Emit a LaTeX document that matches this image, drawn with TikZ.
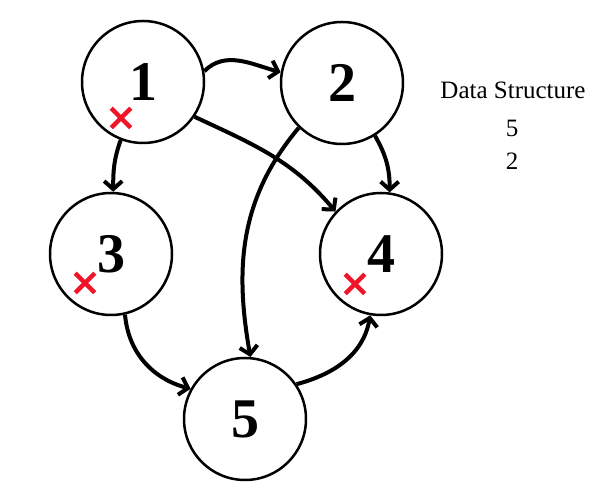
\documentclass[tikz,border=0pt]{standalone}
\usepackage{fontspec}
\setmainfont{Liberation Serif}
\usepackage{tikz}
\usetikzlibrary{arrows.meta,shapes.misc}
\definecolor{markred}{RGB}{240,20,40}
\tikzset{
  vertex/.style={circle, draw, line width=2.5pt, minimum size=122pt, inner sep=0pt,
    font=\fontsize{56}{60}\selectfont\bfseries},
  edge/.style={line width=4pt, -{Straight Barb[length=8pt,width=18pt]}},
  visited/.style={cross out, draw=markred, line width=4.5pt, minimum size=15pt, inner sep=0pt},
  stackitem/.style={font=\fontsize{25}{28}\selectfont}
}

\begin{document}
\begin{tikzpicture}[x=1pt,y=1pt]
    \useasboundingbox (0,0) rectangle (600,500);
    \node[vertex] (n1) at (143,418) {1};
    \node[vertex] (n2) at (342,417) {2};
    \node[vertex] (n3) at (111,246) {3};
    \node[vertex] (n4) at (381,246) {4};
    \node[vertex] (n5) at (245,81) {5};
    \node[visited] (x1) at (121,382) {};
    \node[visited] (x3) at (85,217) {};
    \node[visited] (x4) at (355,216) {};
    \draw[edge] (n1.10) to[out=45, in=165] (n2.170);
    \draw[edge] (n1.-111) to[out=-110, in=90] (n3.88);
    \draw[edge] (n1.-34) to[out=-25, in=130] (n4.137);
    \draw[edge] (n2.-58) to[out=-60, in=90] (n4.82);
    \draw[edge] (n2.-134) to[out=-130, in=100] (n5.85);
    \draw[edge] (n3.-77) to[out=-85, in=165] (n5.151);
    \draw[edge] (n5.34) to[out=15, in=-100] (n4.-100);
    \node[stackitem] (title) at (513,410) {Data Structure};
    \node[stackitem] (s1) at (512,372) {5};
    \node[stackitem] (s2) at (512,339) {2};
\end{tikzpicture}
\end{document}
